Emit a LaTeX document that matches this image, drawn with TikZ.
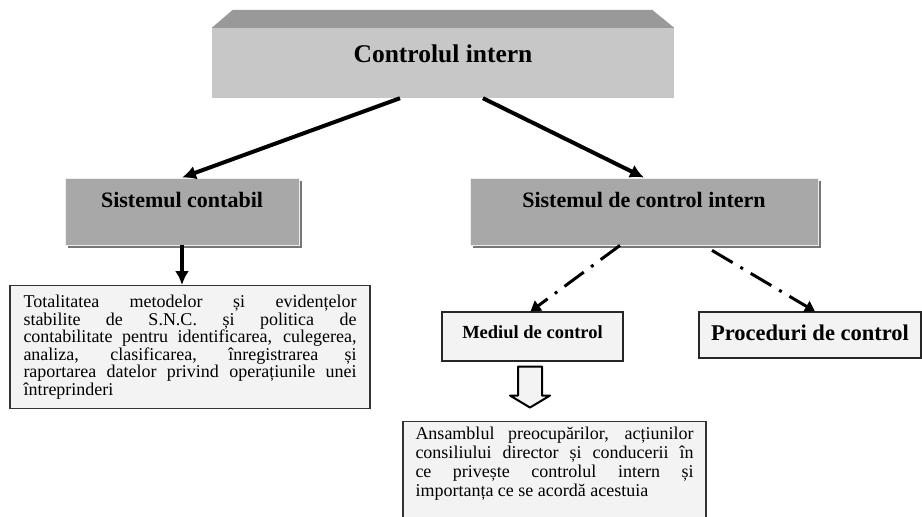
\documentclass[tikz,border=0pt]{standalone}
\usepackage{fontspec}
\setmainfont{Liberation Serif}
\usepackage{tikz}
\usepackage{xcolor}
\usetikzlibrary{positioning, calc, arrows.meta, shadows}
\definecolor{bevelGray}{RGB}{153,153,153}
\definecolor{faceGray}{RGB}{199,199,199}
\definecolor{boxGray}{RGB}{168,168,168}
\definecolor{shadowGray}{RGB}{118,118,118}
\definecolor{paleGray}{RGB}{243,243,243}
\newcommand{\jline}[2][333pt]{\makebox[#1][s]{#2}\\}
\AtBeginDocument{\setlength{\lineskiplimit}{-100pt}}

\begin{document}
\begin{tikzpicture}[x=1pt, y=-1pt,
    every node/.style={inner sep=0pt},
    topbox/.style={fill=faceGray, minimum width=462pt, minimum height=70pt,
        text height=34pt, text depth=36pt, font=\fontsize{25.5}{29}\selectfont\bfseries},
    headbox/.style={fill=boxGray, draw=white!80!boxGray, line width=0.8pt, minimum height=67pt,
        text height=29pt, text depth=38pt, font=\fontsize{22}{26}\selectfont\bfseries,
        drop shadow={shadow xshift=3pt, shadow yshift=-3pt, fill=shadowGray, opacity=1}},
    smallbox/.style={fill=paleGray, draw=black!85, line width=1.1pt},
    textbox/.style={fill=paleGray, draw=black!80, line width=1.1pt, align=justify,
        font=\fontsize{18}{17.5}\selectfont},
    bigarrow/.style={line width=4pt, -{Latex[length=14pt, width=14pt]}},
    dotarrow/.style={line width=3pt, dash pattern=on 24pt off 9pt on 3pt off 9pt,
        -{Triangle[length=10pt, width=12pt]}},
    hollow/.style={fill=paleGray, draw=black, line width=2pt, line join=round}]
    \clip (0,0) rectangle (922,517);

    \node[topbox] (top) at (443,63) {Controlul intern};
    \fill[bevelGray] (top.north west) -- ++(21,-18) -- ([shift={(-22,-18)}]top.north east)
        -- (top.north east) -- cycle;

    \node[headbox, minimum width=234pt] (contabil) at (182,211.5) {Sistemul contabil};
    \node[headbox, minimum width=348pt] (sci) at (644,211.5) {Sistemul de control intern};

    \node[textbox, text width=333pt, inner xsep=13.5pt, inner ysep=9.5pt, anchor=north] (metode) at (190,285) {%
        \jline{Totalitatea metodelor și evidențelor}
        \jline{stabilite de S.N.C. și politica de}
        \jline{contabilitate pentru identificarea, culegerea,}
        \jline{analiza, clasificarea, înregistrarea și}
        \jline{raportarea datelor privind operațiunile unei}
        întreprinderi};

    \node[smallbox, minimum width=181pt, minimum height=49pt, text height=26pt, text depth=23pt,
        font=\fontsize{18.5}{22}\selectfont\bfseries] (mediul) at (532.5,336.5) {Mediul de control};
    \node[smallbox, minimum width=222pt, minimum height=46pt, text height=28pt, text depth=18pt,
        font=\fontsize{22.5}{26}\selectfont\bfseries] (proceduri) at (810,335) {Proceduri de control};

    \node[textbox, text width=278pt, inner xsep=12.5pt, inner ysep=5pt,
        font=\fontsize{18}{19}\selectfont, anchor=north] (ansamblu) at (554.5,421) {%
        \jline[278pt]{Ansamblul preocupărilor, acțiunilor}
        \jline[278pt]{consiliului director și conducerii în}
        \jline[278pt]{ce privește controlul intern și}
        importanța ce se acordă acestuia\\[80pt]\mbox{}};

    \draw[bigarrow] ([xshift=-43pt]top.south) -- (contabil.north);
    \draw[bigarrow] ([xshift=40pt]top.south) -- (sci.north);
    \draw[bigarrow] (contabil.south) -- (contabil.south |- metode.north);
    \draw[dotarrow] ([xshift=-24pt]sci.south) -- ([xshift=-2pt]mediul.north);
    \draw[dotarrow] ([shift={(68,5)}]sci.south) -- ([xshift=5pt]proceduri.north);

    \coordinate (gap) at ([xshift=-2.5pt, yshift=-5pt]mediul.south);
    \draw[hollow] ([xshift=-12pt]gap) -- ++(24,0) -- ++(0,29) -- ++(8,0) -- ++(-20,12)
        -- ++(-20,-12) -- ++(8,0) -- cycle;
\end{tikzpicture}
\end{document}
